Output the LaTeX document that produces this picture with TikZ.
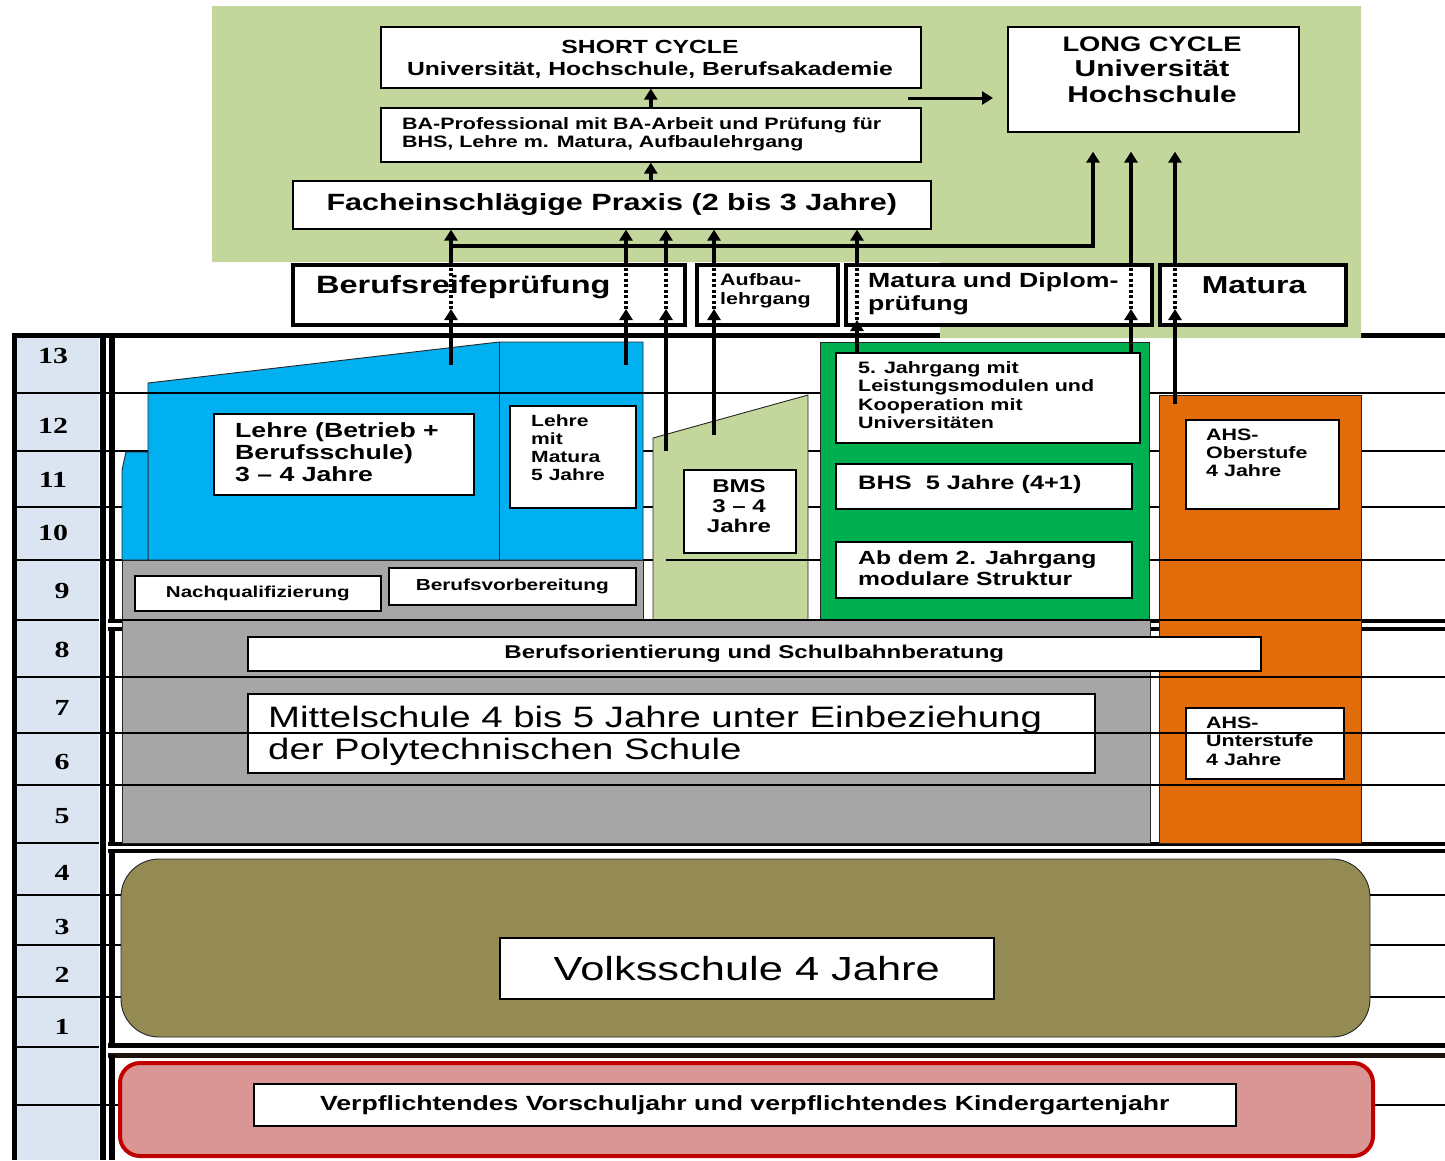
\documentclass[tikz,border=0pt]{standalone}
\usepackage{fontspec}
\newfontfamily\wf[FakeStretch=1.3]{Liberation Sans}
\newfontfamily\nf[FakeStretch=1.3]{Liberation Serif}
\usetikzlibrary{arrows.meta,calc}
\definecolor{topgreen}{HTML}{C3D69B}
\definecolor{lblue}{HTML}{00B0F0}
\definecolor{bhsgreen}{HTML}{00B050}
\definecolor{ahsorange}{HTML}{E36C0A}
\definecolor{msgrey}{HTML}{A6A6A6}
\definecolor{olive}{HTML}{948A54}
\definecolor{rose}{HTML}{D99694}
\definecolor{kgred}{HTML}{C00000}
\definecolor{colbg}{HTML}{DBE5F1}
\newcommand\fsz[2]{\fontsize{#1}{#2}\selectfont}

\begin{document}
\begin{tikzpicture}[x=1pt,y=-1pt,
  wbox/.style={draw, fill=white, line width=1.6pt, inner sep=0pt, anchor=north west},
  tbox/.style={wbox, line width=4pt},
  txt/.style={inner sep=0pt, anchor=north west, align=left},
  blk/.style={draw=black!85, line width=0.9pt},
  grid/.style={line width=1.2pt},
  arr/.style={line width=3.5pt, -{Triangle[length=11pt,width=13pt]}},
  dots/.style={line width=4pt, dash pattern=on 3pt off 2.5pt},
  yr/.style={font=\nf\bfseries\fsz{23}{23}, inner sep=0pt, anchor=base}]
\useasboundingbox (0,0) rectangle (1445,1160);

\fill[colbg] (17,333) rectangle (99,1160);
\foreach \y in {393,451,507,560,677,733,785,895,945,997,1105}
  \draw[grid] (17,\y) -- (1445,\y);
\foreach \y in {620,843,1047}
  \draw[grid] (17,\y) -- (99,\y);
\draw[line width=5pt] (14.5,333) -- (14.5,1160);
\draw[line width=6pt] (102.5,333) -- (102.5,1160);
\draw[line width=5pt] (12,335) -- (1445,335);
\draw[line width=6pt] (111.5,335) -- (111.5,621);
\draw[line width=4pt] (108,621) -- (1445,621);
\draw[line width=4pt] (108,628.5) -- (1445,628.5);
\draw[line width=6pt] (111.5,628) -- (111.5,845);
\draw[line width=4pt] (108,844) -- (1445,844);
\draw[line width=4pt] (108,851) -- (1445,851);
\draw[line width=6pt] (111.5,851) -- (111.5,1046);
\draw[line width=5pt] (108,1045.5) -- (1445,1045.5);
\draw[line width=5pt, black!85!brown] (108,1055.5) -- (1445,1055.5);
\draw[line width=6pt] (111.5,1055) -- (111.5,1160);

\fill[topgreen] (212,6) -- (1361,6) -- (1361,338) -- (940,338) -- (940,262) -- (212,262) -- cycle;

\draw[blk, fill=lblue] (148,383) -- (499,342) -- (643,342) -- (643,560) -- (148,560) -- cycle;
\draw[blk] (499,342) -- (499,560);
\draw[blk, fill=lblue] (122,470) -- (126,452) -- (148,452) -- (148,560) -- (122,560) -- cycle;
\draw[blk, fill=msgrey] (122,560) -- (643,560) -- (643,620) -- (1150,620) -- (1150,843) -- (122,843) -- cycle;
\draw[blk, fill=topgreen] (653,438) -- (808,395) -- (808,620) -- (653,620) -- cycle;
\draw[blk, fill=bhsgreen] (820,342) rectangle (1149,620);
\draw[blk, fill=ahsorange] (1159,395) rectangle (1361,843);
\draw[blk, fill=olive, rounded corners=38pt] (121,859) rectangle (1370,1037);
\draw[line width=4pt, draw=kgred, fill=rose, rounded corners=20pt] (120,1063) rectangle (1373,1156);

\draw[grid] (148,393) -- (643,393);
\draw[grid] (666,560) -- (820,560);
\draw[grid] (1159,560) -- (1361,560);
\draw[grid] (122,620) -- (1361,620);
\foreach \y in {677,733,785}
  \draw[grid] (115,\y) -- (1445,\y);

\node[wbox, minimum width=540, minimum height=61] (shortc) at (380,26) {};
\node[wbox, minimum width=540, minimum height=54] (bapro) at (380,107) {};
\node[wbox, minimum width=638, minimum height=48, font=\wf\bfseries\fsz{23.5}{26}] (praxis) at (292,180) {Facheinschlägige Praxis (2 bis 3 Jahre)};
\node[wbox, minimum width=291, minimum height=105] (longc) at (1007,26) {};
\node[tbox, minimum width=392, minimum height=60] (brp) at (291,263) {};
\node[tbox, minimum width=141, minimum height=60] (aufbau) at (695,263) {};
\node[tbox, minimum width=306, minimum height=60] (matdip) at (844,263) {};
\node[tbox, minimum width=186, minimum height=60] (matura) at (1158,263) {};
\node[wbox, minimum width=260, minimum height=81] (lehre) at (213,413) {};
\node[wbox, minimum width=126, minimum height=102] (lmm) at (509,405) {};
\node[wbox, minimum width=112, minimum height=83] (bms) at (683,469) {};
\node[wbox, minimum width=304, minimum height=90] (jg5) at (835,352) {};
\node[wbox, minimum width=296, minimum height=45] (bhs) at (835,463) {};
\node[wbox, minimum width=296, minimum height=56] (modul) at (835,541) {};
\node[wbox, minimum width=246, minimum height=35, font=\wf\bfseries\fsz{15.8}{18}] (nachq) at (134,575) {Nachqualifizierung};
\node[wbox, minimum width=247, minimum height=37, font=\wf\bfseries\fsz{16}{18}] (bvorb) at (388,567) {Berufsvorbereitung};
\node[wbox, minimum width=153, minimum height=89] (ahso) at (1185,419) {};
\node[wbox, minimum width=1013, minimum height=34, font=\wf\bfseries\fsz{18.5}{20}] (bosb) at (247,636) {Berufsorientierung und Schulbahnberatung};
\node[wbox, minimum width=847, minimum height=79] (mittel) at (247,693) {};
\node[wbox, minimum width=158, minimum height=71] (ahsu) at (1185,707) {};
\node[wbox, minimum width=494, minimum height=61, font=\wf\fsz{33.4}{36}] (volks) at (499,937) {Volksschule 4 Jahre};
\node[wbox, minimum width=982, minimum height=42, font=\wf\bfseries\fsz{20.5}{22}] (vorsch) at (253,1083) {Verpflichtendes Vorschuljahr und verpflichtendes Kindergartenjahr};

\draw[grid] (1185,733) -- (1343,733);
\draw[grid] (247,733) -- (1094,733);

\node[txt, anchor=north, align=center, font=\wf\bfseries\fsz{19}{22}] (shortc-t) at (650,40.4) {SHORT CYCLE\\Universität, Hochschule, Berufsakademie};
\node[txt, font=\wf\bfseries\fsz{16.5}{18}] (bapro-t) at (402,117.4) {BA-Professional mit BA-Arbeit und Prüfung für\\BHS, Lehre m. Matura, Aufbaulehrgang};
\node[txt, anchor=north, align=center, font=\wf\bfseries\fsz{23}{25.5}] (longc-t) at (1152,36.5) {{\fsz{21}{25.5}LONG CYCLE}\\Universität\\Hochschule};
\node[txt, font=\wf\bfseries\fsz{25}{28}] (brp-t) at (316,275) {Berufsreifeprüfung};
\node[txt, font=\wf\bfseries\fsz{16.5}{19}] (aufbau-t) at (720,273.4) {Aufbau-\\lehrgang};
\node[txt, font=\wf\bfseries\fsz{20.5}{23}] (matdip-t) at (868,272.8) {Matura und Diplom-\\prüfung};
\node[txt, anchor=north, font=\wf\bfseries\fsz{24.5}{28}] (matura-t) at (1254,276.2) {Matura};
\node[txt, font=\wf\bfseries\fsz{20.5}{22}] (lehre-t) at (235,422.8) {Lehre (Betrieb +\\Berufsschule)\\3 – 4 Jahre};
\node[txt, font=\wf\bfseries\fsz{16.2}{18}] (lmm-t) at (531,414.5) {Lehre\\mit\\Matura\\5 Jahre};
\node[txt, anchor=north, align=center, font=\wf\bfseries\fsz{18.5}{20}] (bms-t) at (739,479.6) {BMS\\3 – 4\\Jahre};
\node[txt, font=\wf\bfseries\fsz{16.5}{18.3}] (jg5-t) at (858,361.4) {5. Jahrgang mit\\Leistungsmodulen und\\Kooperation mit\\Universitäten};
\node[txt, font=\wf\bfseries\fsz{19.5}{22}] (bhs-t) at (858,475.2) {BHS\ \ 5 Jahre (4+1)};
\node[txt, font=\wf\bfseries\fsz{19}{21}] (modul-t) at (858,550.4) {Ab dem 2. Jahrgang\\modulare Struktur};
\node[txt, font=\wf\bfseries\fsz{16.5}{18}] (ahso-t) at (1206,428.4) {AHS-\\Oberstufe\\4 Jahre};
\node[txt, font=\wf\fsz{29.5}{32}] (mittel-t) at (268,705.5) {Mittelschule 4 bis 5 Jahre unter Einbeziehung\\der Polytechnischen Schule};
\node[txt, font=\wf\bfseries\fsz{16.5}{18.5}] (ahsu-t) at (1206,716.4) {AHS-\\Unterstufe\\4 Jahre};

\foreach \n/\x/\y in {13/53/363.5, 12/53/433.5, 11/53/487.5, 10/53/540.5, 9/62/598.5, 8/62/657.5, 7/62/715.5, 6/62/769.5, 5/62/823.5, 4/62/880.5, 3/62/934.5, 2/62/982.5, 1/62/1034.5}
  \node[yr] (yr\n) at (\x,\y) {\n};

\coordinate (f1) at (451,365);
\coordinate (f2) at (626,365);
\coordinate (f3) at (666,451);
\coordinate (f4) at (714,435);
\coordinate (f5) at (857,352);
\coordinate (f6) at (1131,352);
\coordinate (f7) at (1175,404);
\coordinate (busr) at (1093,246);
\coordinate (sl) at (908,98);

\foreach \f/\b/\o in {f1/brp/18, f2/brp/18, f3/brp/18, f4/aufbau/18, f5/matdip/7, f6/matdip/18, f7/matura/18}{
  \draw[arr] (\f) -- ($(\f |- \b.south)+(0,-\o)$);
  \draw[dots] ($(\f |- \b.south)+(0,-\o)$) -- (\f |- \b.north);
}
\foreach \f in {f1,f2,f3,f4,f5}
  \draw[arr] (\f |- brp.north) -- (\f |- praxis.south);
\foreach \f in {f6,f7}
  \draw[arr, shorten >=19pt] (\f |- matdip.north) -- (\f |- longc.south);
\draw[arr, shorten >=19pt] (f1 |- busr) -- (busr) -- (busr |- longc.south);
\draw[arr] (bapro.north) -- (shortc.south);
\draw[arr] (bapro.south |- praxis.north) -- (bapro.south);
\draw[arr, line width=3pt, shorten >=14pt] (sl) -- (sl -| longc.west);
\end{tikzpicture}
\end{document}
